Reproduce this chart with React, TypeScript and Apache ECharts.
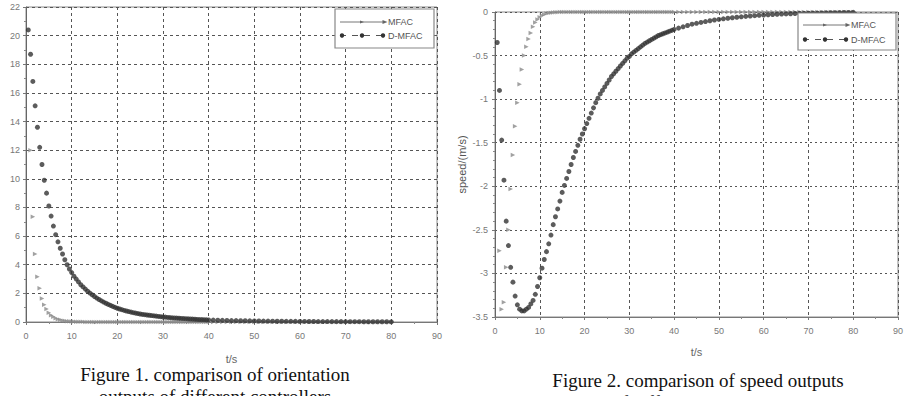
import React, { useEffect, useRef } from "react";
import * as echarts from "echarts";

// time samples (s)
const T = [
  0.5, 1, 1.5, 2, 2.5, 3, 3.5, 4, 4.5, 5, 5.5, 6, 6.5, 7, 7.5, 8, 8.5, 9, 9.5, 10,
  10.5, 11, 11.5, 12, 12.5, 13, 13.5, 14, 14.5, 15, 15.5, 16, 16.5, 17, 17.5, 18, 18.5, 19, 19.5, 20,
  20.5, 21, 21.5, 22, 22.5, 23, 23.5, 24, 24.5, 25, 25.5, 26, 26.5, 27, 27.5, 28, 28.5, 29, 29.5, 30,
  30.5, 31, 31.5, 32, 32.5, 33, 33.5, 34, 34.5, 35, 35.5, 36, 36.5, 37, 37.5, 38, 38.5, 39, 39.5, 40,
  41, 42, 43, 44, 45, 46, 47, 48, 49, 50, 51, 52, 53, 54, 55, 56, 57, 58, 59, 60,
  61, 62, 63, 64, 65, 66, 67, 68, 69, 70, 71, 72, 73, 74, 75, 76, 77, 78, 79, 80,
];

// Figure 1: orientation outputs
const ORI_MFAC = [
  null, 12.0, 7.35, 4.75, 3.16, 2.35, 1.65, 1.2, 0.9, 0.65, 0.48, 0.36, 0.27, 0.2, 0.15, 0.11, 0.08, 0.06, 0.045, 0.035,
  0.027, 0.02, 0.015, 0.012, 0.01, 0.008, 0.006, 0.005, 0.004, 0.003, 0.002, 0.002, 0.001, 0.001, 0.001, 0, 0, 0, 0, 0,
  0, 0, 0, 0, 0, 0, 0, 0, 0, 0, 0, 0, 0, 0, 0, 0, 0, 0, 0, 0,
  0, 0, 0, 0, 0, 0, 0, 0, 0, 0, 0, 0, 0, 0, 0, 0, 0, 0, 0, 0,
  0, 0, 0, 0, 0, 0, 0, 0, 0, 0, 0, 0, 0, 0, 0, 0, 0, 0, 0, 0,
  0, 0, 0, 0, 0, 0, 0, 0, 0, 0, 0, 0, 0, 0, 0, 0, 0, 0, 0, 0,
];
const ORI_DMFAC = [
  20.4, 18.7, 16.8, 15.1, 13.6, 12.2, 11.0, 9.9, 9.0, 8.1, 7.4, 6.7, 6.1, 5.6, 5.15, 4.75, 4.35, 4.0, 3.7, 3.45,
  3.2, 3.0, 2.8, 2.6, 2.45, 2.3, 2.15, 2.02, 1.9, 1.78, 1.67, 1.57, 1.48, 1.39, 1.31, 1.23, 1.16, 1.09, 1.02, 0.96,
  0.91, 0.86, 0.81, 0.77, 0.73, 0.69, 0.65, 0.62, 0.59, 0.56, 0.53, 0.51, 0.49, 0.47, 0.45, 0.43, 0.41, 0.39, 0.37, 0.35,
  0.34, 0.32, 0.31, 0.29, 0.28, 0.27, 0.26, 0.25, 0.24, 0.23, 0.22, 0.21, 0.2, 0.19, 0.18, 0.17, 0.165, 0.16, 0.15, 0.145,
  0.135, 0.125, 0.115, 0.11, 0.1, 0.095, 0.09, 0.085, 0.08, 0.075, 0.07, 0.066, 0.062, 0.058, 0.055, 0.052, 0.049, 0.046, 0.043, 0.04,
  0.038, 0.036, 0.034, 0.032, 0.03, 0.028, 0.027, 0.026, 0.025, 0.024, 0.023, 0.022, 0.021, 0.02, 0.019, 0.018, 0.017, 0.016, 0.015, 0.014,
];

// Figure 2: speed outputs
const SPD_MFAC = [
  null, -2.74, -3.41, -3.33, -2.93, -2.5, -2.03, -1.64, -1.31, -1.04, -0.83, -0.66, -0.5, -0.4, -0.31, -0.24, -0.17, -0.12, -0.085, -0.06,
  -0.04, -0.028, -0.018, -0.012, -0.008, -0.005, -0.003, -0.002, -0.001, 0, 0, 0, 0, 0, 0, 0, 0, 0, 0, 0,
  0, 0, 0, 0, 0, 0, 0, 0, 0, 0, 0, 0, 0, 0, 0, 0, 0, 0, 0, 0,
  0, 0, 0, 0, 0, 0, 0, 0, 0, 0, 0, 0, 0, 0, 0, 0, 0, 0, 0, 0,
  0, 0, 0, 0, 0, 0, 0, 0, 0, 0, 0, 0, 0, 0, 0, 0, 0, 0, 0, 0,
  0, 0, 0, 0, 0, 0, 0, 0, 0, 0, 0, 0, 0, 0, 0, 0, 0, 0, 0, 0,
];
const SPD_DMFAC = [
  -0.35, -0.9, -1.47, -1.93, -2.4, -2.68, -2.93, -3.1, -3.26, -3.36, -3.41, -3.43, -3.43, -3.41, -3.39, -3.35, -3.31, -3.24, -3.15, -3.05,
  -2.94, -2.84, -2.75, -2.66, -2.56, -2.44, -2.35, -2.26, -2.17, -2.07, -1.99, -1.91, -1.83, -1.75, -1.67, -1.6, -1.53, -1.46, -1.4, -1.34,
  -1.28, -1.22, -1.16, -1.1, -1.04, -0.99, -0.94, -0.9, -0.86, -0.82, -0.78, -0.74, -0.71, -0.68, -0.65, -0.62, -0.59, -0.56, -0.53, -0.51,
  -0.48, -0.46, -0.44, -0.42, -0.4, -0.38, -0.36, -0.345, -0.33, -0.315, -0.3, -0.285, -0.27, -0.26, -0.25, -0.24, -0.23, -0.22, -0.21, -0.2,
  -0.185, -0.17, -0.155, -0.14, -0.13, -0.12, -0.11, -0.1, -0.092, -0.085, -0.078, -0.072, -0.066, -0.06, -0.055, -0.05, -0.046, -0.042, -0.038, -0.035,
  -0.032, -0.029, -0.026, -0.024, -0.022, -0.02, -0.018, -0.016, -0.015, -0.014, -0.013, -0.012, -0.011, -0.01, -0.009, -0.008, -0.007, -0.006, -0.005, -0.004,
];

const SERIES_NAMES = ["MFAC", "D-MFAC"];
const X_NAME = "t/s";
const Y2_NAME = "speed/(m/s)";
const CAPTION1 = ["Figure 1. comparison of orientation", "outputs of different controllers"];
const CAPTION2 = ["Figure 2. comparison of speed outputs", "of different controllers"];

const pairs = (vals: (number | null)[]) =>
  T.map((t, i) => [t, vals[i]]).filter((p) => p[1] !== null);

const SANS = "Liberation Sans";
const SERIF = "Liberation Serif";

function xAxis(gridIndex: number, nameGap: number) {
  return {
    gridIndex,
    type: "value",
    min: 0,
    max: 90,
    interval: 10,
    name: X_NAME,
    nameLocation: "middle",
    nameGap,
    nameTextStyle: { fontSize: 11, color: "#666", fontFamily: SANS },
    axisLine: { show: true, onZero: false, lineStyle: { color: "#777", width: 1 } },
    axisTick: { show: true, length: 3, lineStyle: { color: "#777" } },
    minorTick: { show: true, splitNumber: 2, length: 2, lineStyle: { color: "#888" } },
    axisLabel: { fontSize: 9, color: "#777", margin: 9, fontFamily: SANS },
    splitLine: { show: true, lineStyle: { type: [3, 3], color: "#555", width: 1 } },
  };
}

function scatter(name: string, idx: number, data: any[], mfac: boolean) {
  return mfac
    ? {
        name,
        type: "scatter",
        xAxisIndex: idx,
        yAxisIndex: idx,
        data,
        symbol: "triangle",
        symbolRotate: -90,
        symbolSize: 4.5,
        itemStyle: { color: "#8a8a8a" },
        z: 2,
      }
    : {
        name,
        type: "scatter",
        xAxisIndex: idx,
        yAxisIndex: idx,
        data,
        symbol: "circle",
        symbolSize: 5,
        itemStyle: { color: "#333" },
        z: 3,
      };
}

function legend(x: number, y: number, w: number, h: number, r1: number, r2: number) {
  const lx0 = x + 5;
  const lx1 = x + 50;
  const tri = (cx: number, cy: number, s: number) => ({
    type: "polygon",
    shape: { points: [[cx - s, cy - s * 0.8], [cx + s, cy], [cx - s, cy + s * 0.8]] },
    style: { fill: "#666" },
  });
  return [
    { type: "rect", shape: { x, y, width: w, height: h }, style: { fill: "#fff", stroke: "#888", lineWidth: 1.2 }, z: 10 },
    { type: "line", shape: { x1: lx0, y1: r1, x2: lx1, y2: r1 }, style: { stroke: "#777", lineWidth: 1 }, z: 11 },
    { ...tri(lx0 + 22, r1, 2), z: 11 },
    { ...tri(lx1, r1, 2.5), z: 11 },
    { type: "text", style: { text: SERIES_NAMES[0], x: lx1 + 3, y: r1, fontSize: 9, fontFamily: SANS, fill: "#555", verticalAlign: "middle", align: "left" }, z: 11 },
    { type: "line", shape: { x1: lx0, y1: r2, x2: lx1, y2: r2 }, style: { stroke: "#555", lineWidth: 1, lineDash: [6, 6] }, z: 11 },
    { type: "circle", shape: { cx: lx0 + 2, cy: r2, r: 2.2 }, style: { fill: "#333" }, z: 11 },
    { type: "circle", shape: { cx: lx0 + 22, cy: r2, r: 2.2 }, style: { fill: "#333" }, z: 11 },
    { type: "circle", shape: { cx: lx1 - 2, cy: r2, r: 2.2 }, style: { fill: "#333" }, z: 11 },
    { type: "text", style: { text: SERIES_NAMES[1], x: lx1 + 3, y: r2, fontSize: 9, fontFamily: SANS, fill: "#555", verticalAlign: "middle", align: "left" }, z: 11 },
  ];
}

function caption(lines: string[], cx: number, cy: number) {
  return lines.map((t, i) => ({
    type: "text",
    style: {
      text: t,
      x: cx,
      y: cy + i * 22,
      fontSize: 19,
      fontFamily: SERIF,
      fill: "#111",
      align: "center",
      verticalAlign: "middle",
    },
  }));
}

export default function App() {
  const ref = useRef<HTMLDivElement>(null);
  useEffect(() => {
    if (!ref.current) return;
    const chart = echarts.init(ref.current, null, { renderer: "svg" });
    const option: any = {
      animation: false,
      backgroundColor: "#fff",
      grid: [
        { left: 26, top: 7, width: 411, height: 315, show: true, borderColor: "#8c8c8c", borderWidth: 1 },
        { left: 495, top: 12, width: 403, height: 305, show: true, borderColor: "#8c8c8c", borderWidth: 1 },
      ],
      xAxis: [xAxis(0, 31), xAxis(1, 29)],
      yAxis: [
        {
          gridIndex: 0,
          type: "value",
          min: 0,
          max: 22,
          interval: 2,
          axisLine: { show: true, lineStyle: { color: "#666", width: 1 } },
          axisTick: { show: true, length: 3, lineStyle: { color: "#777" } },
          minorTick: { show: true, splitNumber: 2, length: 2, lineStyle: { color: "#888" } },
          axisLabel: { fontSize: 9, color: "#777", margin: 6, fontFamily: SANS },
          splitLine: { show: true, lineStyle: { type: [3, 3], color: "#555", width: 1 } },
        },
        {
          gridIndex: 1,
          type: "value",
          min: -3.5,
          max: 0,
          interval: 0.5,
          name: Y2_NAME,
          nameLocation: "middle",
          nameGap: 28,
          nameRotate: 90,
          nameTextStyle: { fontSize: 11, color: "#555", fontFamily: SANS },
          axisLine: { show: true, onZero: false, lineStyle: { color: "#666", width: 1 } },
          axisTick: { show: true, length: 3, lineStyle: { color: "#777" } },
          minorTick: { show: true, splitNumber: 5, length: 2, lineStyle: { color: "#888" } },
          axisLabel: { fontSize: 9, color: "#777", margin: 7, fontFamily: SANS },
          splitLine: { show: true, lineStyle: { type: [2, 3], color: "#555", width: 1 } },
        },
      ],
      series: [
        scatter(SERIES_NAMES[0], 0, pairs(ORI_MFAC), true),
        scatter(SERIES_NAMES[1], 0, pairs(ORI_DMFAC), false),
        scatter(SERIES_NAMES[0], 1, pairs(SPD_MFAC), true),
        scatter(SERIES_NAMES[1], 1, pairs(SPD_DMFAC), false),
      ],
      graphic: [
        ...legend(335, 9, 99, 39, 22, 35.5),
        ...legend(798, 13, 98, 37, 25, 39.5),
        ...caption(CAPTION1, 215, 374),
        ...caption(CAPTION2, 698, 380),
      ],
    };
    chart.setOption(option);
    return () => chart.dispose();
  }, []);
  return (
    <div
      ref={ref}
      style={{ position: "absolute", left: 0, top: 0, width: 907, height: 396, background: "#fff" }}
    />
  );
}
